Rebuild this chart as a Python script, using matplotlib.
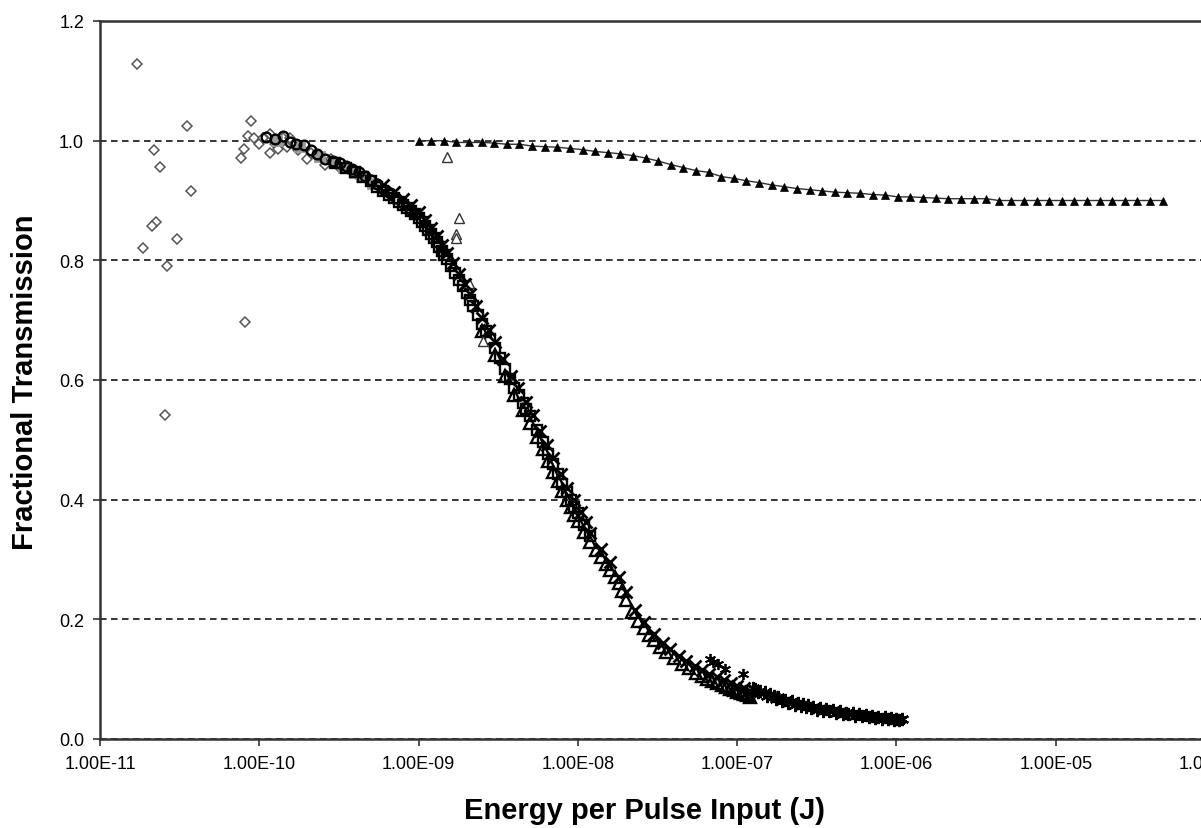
import matplotlib
matplotlib.use('Agg')
import matplotlib.pyplot as plt
from matplotlib.ticker import FixedLocator, FixedFormatter, NullLocator

plt.rcParams['font.family'] = ['Liberation Sans', 'DejaVu Sans']

# ---------------- data ----------------
# reference series: filled triangles joined by a line
ref_E = [1.00e-9, 1.20e-9, 1.44e-9, 1.73e-9, 2.07e-9, 2.49e-9, 2.99e-9, 3.58e-9, 4.30e-9, 5.16e-9,
         6.19e-9, 7.43e-9, 8.92e-9, 1.07e-8, 1.28e-8, 1.54e-8, 1.85e-8, 2.22e-8, 2.66e-8, 3.19e-8,
         3.83e-8, 4.60e-8, 5.52e-8, 6.62e-8, 7.95e-8, 9.54e-8, 1.14e-7, 1.37e-7, 1.65e-7, 1.98e-7,
         2.37e-7, 2.85e-7, 3.42e-7, 4.10e-7, 4.92e-7, 5.91e-7, 7.09e-7, 8.51e-7, 1.02e-6, 1.22e-6,
         1.47e-6, 1.76e-6, 2.12e-6, 2.54e-6, 3.05e-6, 3.66e-6, 4.39e-6, 5.27e-6, 6.32e-6, 7.58e-6,
         9.10e-6, 1.09e-5, 1.31e-5, 1.57e-5, 1.89e-5, 2.26e-5, 2.72e-5, 3.26e-5, 3.91e-5, 4.70e-5]
ref_T = [1.000, 1.000, 1.000, 0.997, 0.997, 0.997, 0.996, 0.994, 0.994, 0.991,
         0.990, 0.989, 0.987, 0.985, 0.982, 0.980, 0.978, 0.975, 0.971, 0.966,
         0.960, 0.955, 0.950, 0.947, 0.940, 0.937, 0.933, 0.930, 0.926, 0.923,
         0.920, 0.918, 0.916, 0.914, 0.913, 0.912, 0.910, 0.909, 0.906, 0.906,
         0.905, 0.904, 0.903, 0.903, 0.903, 0.903, 0.900, 0.900, 0.900, 0.900,
         0.900, 0.900, 0.900, 0.900, 0.900, 0.900, 0.900, 0.900, 0.900, 0.900]

# open diamonds (grey)
diam_E = [1.71e-11, 3.52e-11, 2.18e-11, 2.38e-11, 3.72e-11, 2.25e-11, 2.12e-11, 3.04e-11, 1.86e-11,
          2.64e-11, 8.13e-11, 2.56e-11,
          7.64e-11, 8.0e-11, 8.87e-11, 8.45e-11, 9.3e-11, 1.0e-10, 1.06e-10, 1.17e-10, 1.17e-10,
          1.25e-10, 1.31e-10, 1.4e-10, 1.5e-10, 1.56e-10, 1.75e-10, 1.98e-10, 2.1e-10, 2.3e-10,
          2.58e-10, 2.8e-10, 3.2e-10, 3.6e-10, 4.2e-10]
diam_T = [1.128, 1.024, 0.984, 0.956, 0.916, 0.864, 0.857, 0.835, 0.820,
          0.790, 0.697, 0.541,
          0.971, 0.986, 1.033, 1.008, 1.005, 0.995, 1.005, 0.980, 1.011,
          0.995, 0.986, 1.005, 0.990, 1.005, 0.985, 0.969, 0.980, 0.975,
          0.959, 0.970, 0.955, 0.952, 0.940]

# open circles (black)
circ_E = [1.1e-10, 1.25e-10, 1.4e-10, 1.55e-10, 1.7e-10, 1.9e-10, 2.1e-10, 2.3e-10, 2.6e-10, 2.9e-10,
          3.2e-10, 3.5e-10, 3.8e-10, 4.2e-10, 4.6e-10, 5.0e-10, 5.5e-10, 6.0e-10, 6.6e-10, 7.2e-10,
          8.0e-10, 8.8e-10, 9.6e-10]
circ_T = [1.006, 1.002, 1.008, 0.998, 0.994, 0.992, 0.985, 0.978, 0.970, 0.966,
          0.962, 0.958, 0.953, 0.947, 0.941, 0.934, 0.927, 0.919, 0.912, 0.904,
          0.896, 0.886, 0.878]

# filled grey squares
gsq_E = [1.3e-10, 1.8e-10, 2.4e-10, 3.0e-10, 3.4e-10, 4.0e-10, 4.4e-10, 5.2e-10]
gsq_T = [1.000, 0.990, 0.972, 0.963, 0.955, 0.946, 0.940, 0.928]

# open squares (black)
sq_E = [3.0e-10, 3.5e-10, 4.0e-10, 4.5e-10, 5.0e-10, 5.5e-10, 6.0e-10, 6.5e-10, 7.0e-10, 7.5e-10,
        8.0e-10, 8.5e-10, 9.0e-10, 9.5e-10, 1.0e-9, 1.05e-9, 1.1e-9, 1.15e-9, 1.2e-9, 1.25e-9,
        1.3e-9, 1.35e-9, 1.4e-9, 1.45e-9, 1.5e-9, 1.6e-9, 1.7e-9, 1.8e-9, 1.9e-9, 2.0e-9,
        2.1e-9, 2.2e-9, 2.35e-9, 2.5e-9, 2.65e-9, 2.8e-9, 3.0e-9, 3.25e-9, 3.5e-9, 3.75e-9,
        4.0e-9, 4.25e-9, 4.5e-9, 4.75e-9, 5.0e-9, 5.5e-9, 6.0e-9, 6.5e-9, 7.0e-9, 7.5e-9,
        8.0e-9, 8.5e-9, 9.0e-9, 9.5e-9, 1.0e-8, 1.1e-8, 1.2e-8]
sq_T = [0.962, 0.955, 0.947, 0.939, 0.932, 0.923, 0.916, 0.909, 0.904, 0.898,
        0.893, 0.888, 0.883, 0.877, 0.871, 0.864, 0.858, 0.851, 0.844, 0.837,
        0.830, 0.823, 0.816, 0.809, 0.803, 0.790, 0.779, 0.767, 0.757, 0.745,
        0.734, 0.723, 0.708, 0.694, 0.682, 0.669, 0.654, 0.636, 0.618, 0.602,
        0.587, 0.575, 0.562, 0.551, 0.540, 0.517, 0.496, 0.477, 0.459, 0.443,
        0.427, 0.412, 0.399, 0.387, 0.377, 0.357, 0.339]

# open triangles (black) - isolated points and the dense band
tri_out_E = [1.5e-9, 1.8e-9, 1.73e-9, 1.73e-9, 2.08e-9, 2.55e-9]
tri_out_T = [0.972, 0.870, 0.844, 0.837, 0.762, 0.666]
tri_E = [2.5e-9, 3.0e-9, 3.5e-9, 4.0e-9, 4.5e-9, 5.0e-9, 5.5e-9, 6.0e-9, 6.5e-9, 7.0e-9,
         7.5e-9, 8.0e-9, 8.5e-9, 9.0e-9, 9.5e-9, 1.0e-8, 1.1e-8, 1.2e-8, 1.3e-8, 1.4e-8,
         1.5e-8, 1.6e-8, 1.7e-8, 1.8e-8, 1.9e-8, 2.0e-8, 2.2e-8, 2.4e-8, 2.6e-8, 2.8e-8,
         3.0e-8, 3.3e-8, 3.6e-8, 4.0e-8, 4.5e-8, 5.0e-8, 5.5e-8, 6.0e-8, 6.5e-8, 7.0e-8,
         7.5e-8, 8.0e-8, 8.5e-8, 9.0e-8, 9.5e-8, 1.0e-7, 1.05e-7, 1.1e-7, 1.15e-7, 1.2e-7]
tri_T = [0.682, 0.642, 0.606, 0.575, 0.550, 0.528, 0.505, 0.484, 0.465, 0.447,
         0.431, 0.415, 0.400, 0.387, 0.375, 0.365, 0.346, 0.329, 0.316, 0.304,
         0.293, 0.282, 0.271, 0.260, 0.247, 0.233, 0.213, 0.197, 0.185, 0.173,
         0.165, 0.154, 0.145, 0.136, 0.125, 0.118, 0.111, 0.106, 0.101, 0.097,
         0.093, 0.090, 0.087, 0.084, 0.082, 0.079, 0.077, 0.075, 0.073, 0.071]

# crosses (black)
cross_E = [6.0e-10, 7.0e-10, 8.0e-10, 9.0e-10, 1.0e-9, 1.1e-9, 1.2e-9, 1.3e-9, 1.4e-9, 1.5e-9,
           1.65e-9, 1.8e-9, 1.95e-9, 2.1e-9, 2.3e-9, 2.5e-9, 2.75e-9, 3.0e-9, 3.4e-9, 3.8e-9,
           4.2e-9, 4.7e-9, 5.2e-9, 5.8e-9, 6.4e-9, 7.0e-9, 7.8e-9, 8.6e-9, 9.4e-9, 1.04e-8,
           1.12e-8,
           1.2e-8, 1.4e-8, 1.6e-8, 1.8e-8, 2.0e-8, 2.3e-8, 2.6e-8, 3.0e-8, 3.4e-8, 3.8e-8,
           4.3e-8, 4.8e-8, 5.4e-8, 6.0e-8, 6.7e-8, 7.5e-8, 8.3e-8, 9.2e-8, 1.0e-7, 1.1e-7, 1.2e-7]
cross_T = [0.926, 0.914, 0.903, 0.893, 0.881, 0.868, 0.854, 0.840, 0.826, 0.813,
           0.795, 0.777, 0.760, 0.744, 0.723, 0.704, 0.684, 0.664, 0.635, 0.606,
           0.587, 0.563, 0.541, 0.514, 0.491, 0.469, 0.443, 0.419, 0.399, 0.379,
           0.363,
           0.345, 0.318, 0.295, 0.270, 0.246, 0.215, 0.195, 0.175, 0.161, 0.150,
           0.139, 0.131, 0.122, 0.116, 0.109, 0.103, 0.098, 0.093, 0.089, 0.085, 0.081]

# asterisks (black) - dense tail and isolated points
ast_E = [1.25e-7, 1.3e-7, 1.4e-7, 1.5e-7, 1.6e-7, 1.7e-7, 1.8e-7, 2.0e-7, 2.2e-7, 2.4e-7,
         2.6e-7, 2.8e-7, 3.0e-7, 3.3e-7, 3.6e-7, 4.0e-7, 4.4e-7, 4.8e-7, 5.3e-7, 5.8e-7,
         6.4e-7, 7.0e-7, 7.7e-7, 8.5e-7, 9.3e-7, 1.0e-6, 1.08e-6,
         1.35e-7, 1.55e-7, 1.75e-7, 1.9e-7, 2.1e-7, 2.3e-7, 2.5e-7, 2.7e-7, 2.9e-7, 3.15e-7,
         3.45e-7, 3.8e-7, 4.2e-7, 4.6e-7, 5.0e-7, 5.5e-7, 6.1e-7, 6.7e-7, 7.3e-7, 8.1e-7,
         8.9e-7, 9.7e-7, 1.04e-6]
ast_T = [0.086, 0.084, 0.081, 0.078, 0.075, 0.072, 0.070, 0.066, 0.063, 0.060,
         0.058, 0.056, 0.054, 0.052, 0.050, 0.048, 0.046, 0.044, 0.043, 0.041,
         0.040, 0.038, 0.037, 0.036, 0.035, 0.034, 0.033,
         0.078, 0.072, 0.067, 0.064, 0.060, 0.057, 0.055, 0.053, 0.051, 0.049,
         0.047, 0.046, 0.044, 0.042, 0.041, 0.039, 0.038, 0.036, 0.035, 0.034,
         0.033, 0.032, 0.031]
ast_out_E = [6.74e-8, 7.1e-8, 7.57e-8, 8.37e-8, 1.09e-7]
ast_out_T = [0.134, 0.128, 0.125, 0.117, 0.109]

x_ticks = [1e-11, 1e-10, 1e-9, 1e-8, 1e-7, 1e-6, 1e-5, 1e-4]
x_tick_labels = ['1.00E-11', '1.00E-10', '1.00E-09', '1.00E-08', '1.00E-07',
                 '1.00E-06', '1.00E-05', '1.00E-04']
y_ticks = [0.0, 0.2, 0.4, 0.6, 0.8, 1.0, 1.2]
y_tick_labels = ['0.0', '0.2', '0.4', '0.6', '0.8', '1.0', '1.2']

# ---------------- figure ----------------
W, H = 1201, 829
fig = plt.figure(figsize=(W / 100, H / 100), dpi=100)
ax = fig.add_axes([100 / W, 89 / H, 1115 / W, 718 / H])
ax.set_xscale('log')
ax.set_xlim(1e-11, 1e-4)
ax.set_ylim(0, 1.2)

ax.set_axisbelow(True)
ax.yaxis.grid(True, color='black', linestyle=(0, (4.3, 2.9)), linewidth=1.1)
ax.xaxis.grid(False)

mew = 1.7
ax.plot(diam_E, diam_T, linestyle='none', marker='D', ms=5, mfc='white', mec='#555555', mew=1.1, zorder=3)
ax.plot(gsq_E, gsq_T, linestyle='none', marker='s', ms=6.5, mfc='#9a9a9a', mec='#9a9a9a', mew=1.3, zorder=3)
ax.plot(circ_E, circ_T, linestyle='none', marker='o', ms=7, mfc='none', mec='black', mew=mew, zorder=3)
ax.plot(sq_E, sq_T, linestyle='none', marker='s', ms=7.5, mfc='none', mec='black', mew=mew, zorder=3)
ax.plot(tri_E, tri_T, linestyle='none', marker='^', ms=8.5, mfc='none', mec='black', mew=mew, zorder=3)
ax.plot(tri_out_E, tri_out_T, linestyle='none', marker='^', ms=6.5, mfc='white', mec='#333333', mew=1.0, zorder=3)
ax.plot(cross_E, cross_T, linestyle='none', marker='x', ms=8.5, mec='black', mew=2.0, zorder=3)
ax.plot(ast_E, ast_T, linestyle='none', marker=(6, 2, 0), ms=9.5, mec='black', mew=1.7, zorder=3)
ax.plot(ast_out_E, ast_out_T, linestyle='none', marker=(6, 2, 0), ms=8, mec='black', mew=1.3, zorder=3)
ax.plot(ref_E, ref_T, linestyle='-', color='#333333', linewidth=1.0, marker='^', ms=6,
        mfc='black', mec='black', mew=0.5, zorder=4)

ax.xaxis.set_major_locator(FixedLocator(x_ticks))
ax.xaxis.set_major_formatter(FixedFormatter(x_tick_labels))
ax.xaxis.set_minor_locator(NullLocator())
ax.yaxis.set_major_locator(FixedLocator(y_ticks))
ax.yaxis.set_major_formatter(FixedFormatter(y_tick_labels))

ax.tick_params(axis='both', which='major', direction='out', length=5, width=1.2,
               color='#333333', labelsize=13, pad=6.5)

for side in ['left', 'bottom', 'top', 'right']:
    ax.spines[side].set_color('#333333')
    ax.spines[side].set_linewidth(1.8)

ax.set_xlabel('Energy per Pulse Input (J)', fontsize=21, fontweight='bold')
ax.set_ylabel('Fractional Transmission', fontsize=21, fontweight='bold')
ax.xaxis.set_label_coords(0.488, -0.080)
ax.yaxis.set_label_coords(-0.055, 0.4986)

fig.savefig('out.png', dpi=100)
